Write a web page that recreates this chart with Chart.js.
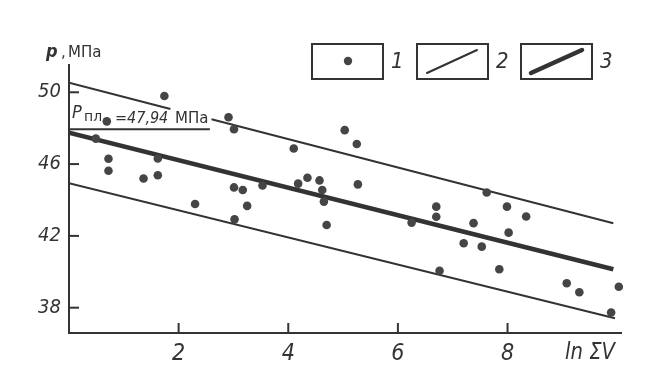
<!DOCTYPE html>
<html>
<head>
<meta charset="utf-8">
<script src="https://cdn.jsdelivr.net/npm/chart.js@4/dist/chart.umd.min.js"></script>
<style>
  html, body { margin: 0; padding: 0; background: #ffffff; }
  #wrap { width: 646px; height: 379px; position: relative; }
</style>
</head>
<body>
<div id="wrap"><canvas id="c" width="646" height="379"></canvas></div>
<script>
// ---- data ----
const pointX = [0.49, 0.69, 0.72, 0.72, 1.36, 1.62, 1.62, 1.74, 2.30, 2.91, 3.01, 3.01, 3.17, 3.25, 3.02,
                3.53, 4.10, 4.18, 4.35, 4.57, 4.62, 4.65, 4.70, 5.03, 5.25, 5.27, 6.25, 6.70, 6.70, 6.76,
                7.20, 7.38, 7.53, 7.62, 7.85, 7.99, 8.02, 8.34, 9.08, 9.31, 9.89, 10.03];
const pointY = [47.42, 48.38, 46.30, 45.63, 45.20, 46.31, 45.38, 49.79, 43.78, 48.61, 47.94, 44.70, 44.56, 43.67, 42.92,
                44.81, 46.87, 44.91, 45.24, 45.09, 44.56, 43.91, 42.61, 47.89, 47.12, 44.87, 42.74, 43.63, 43.07, 40.06,
                41.59, 42.71, 41.40, 44.42, 40.14, 43.63, 42.18, 43.08, 39.36, 38.86, 37.73, 39.17];

const upperX = [0, 1.85, 2.2, 2.60, 9.93];
const upperY = [50.53, 49.07, null, 48.50, 42.70];
const regX = [0, 9.93];
const regY = [47.75, 40.14];
const lowerX = [0, 9.96];
const lowerY = [44.93, 37.41];
const pplX = [0, 2.57];
const pplY = [47.94, 47.94];

const yTicks = [38, 42, 46, 50];
const xTicks = [2, 4, 6, 8];
const legendLabels = ['1', '2', '3'];
const yTitle = ['p', ',', 'МПа'];
const xTitle = 'ln ΣV';
const pplLabel = ['P', 'пл', '=47,94', 'МПа'];

const INK = '#333333';
const DOT = '#454545';
const NARROW = "'Liberation Sans Narrow', 'DejaVu Sans Condensed', 'Liberation Sans', sans-serif";
const SANS = "'DejaVu Sans', 'Liberation Sans', sans-serif";

const zip = (xs, ys) => xs.map((x, i) => ({ x: x, y: ys[i] }));

function text(ctx, str, x, y, font, sx) {
  ctx.save();
  ctx.font = font;
  ctx.translate(x, y);
  ctx.scale(sx || 1, 1);
  ctx.fillText(str, 0, 0);
  ctx.restore();
}

const decor = {
  id: 'decor',
  afterDraw(chart) {
    const ctx = chart.ctx;
    const xs = chart.scales.x, ys = chart.scales.y;
    const a = chart.chartArea;
    ctx.save();
    ctx.strokeStyle = INK;
    ctx.fillStyle = INK;
    // inward tick marks
    ctx.lineWidth = 2;
    ys.ticks.forEach(t => {
      const py = ys.getPixelForValue(t.value);
      ctx.beginPath(); ctx.moveTo(a.left, py); ctx.lineTo(a.left + 10, py); ctx.stroke();
    });
    xs.ticks.forEach(t => {
      const px = xs.getPixelForValue(t.value);
      ctx.beginPath(); ctx.moveTo(px, a.bottom); ctx.lineTo(px, a.bottom - 10); ctx.stroke();
    });
    ctx.textBaseline = 'alphabetic';
    ctx.textAlign = 'left';
    // y axis title
    text(ctx, yTitle[0], a.left - 23, 56.5, "italic bold 18px " + NARROW, 1);
    text(ctx, yTitle[1], a.left - 8, 56.5, "15px " + SANS, 1);
    text(ctx, yTitle[2], a.left - 1, 56.5, "15px " + SANS, 1.0);
    // x axis title
    ctx.textBaseline = 'middle';
    text(ctx, xTitle, a.right - 56, 353, "italic 23px " + NARROW, 0.95);
    // P_pl label
    ctx.textBaseline = 'alphabetic';
    const by = ys.getPixelForValue(pplY[0]);
    const lx = a.left + 3;
    text(ctx, pplLabel[0], lx, by - 11, "italic 18px " + NARROW, 1);
    text(ctx, pplLabel[1], lx + 12, by - 8, "14px " + SANS, 1);
    text(ctx, pplLabel[2], lx + 43, by - 6, "italic 16px " + NARROW, 1);
    text(ctx, pplLabel[3], lx + 103, by - 6, "15px " + SANS, 1);
    // legend
    const boxes = [312, 417, 521];
    const top = 44, bw = 71, bh = 35;
    ctx.lineWidth = 2;
    boxes.forEach((bx, i) => {
      ctx.strokeRect(bx, top, bw, bh);
      ctx.textBaseline = 'middle';
      text(ctx, legendLabels[i], bx + bw + 8, top + bh / 2 + 1, "italic 22px " + NARROW, 1);
    });
    ctx.fillStyle = DOT;
    ctx.beginPath(); ctx.arc(boxes[0] + 36, top + 17, 4.2, 0, Math.PI * 2); ctx.fill();
    ctx.lineCap = 'round';
    ctx.lineWidth = 2;
    ctx.beginPath(); ctx.moveTo(boxes[1] + 10, top + 29); ctx.lineTo(boxes[1] + 60, top + 6); ctx.stroke();
    ctx.lineWidth = 4.5;
    ctx.beginPath(); ctx.moveTo(boxes[2] + 10, top + 29); ctx.lineTo(boxes[2] + 61, top + 6); ctx.stroke();
    ctx.restore();
  }
};

new Chart(document.getElementById('c'), {
  type: 'scatter',
  data: {
    datasets: [
      { data: zip(pointX, pointY), backgroundColor: DOT, borderColor: DOT, pointRadius: 4.3, pointBorderWidth: 0, clip: false },
      { data: zip(upperX, upperY), showLine: true, spanGaps: false, borderColor: INK, borderWidth: 2, pointRadius: 0 },
      { data: zip(regX, regY), showLine: true, borderColor: INK, borderWidth: 4.5, pointRadius: 0 },
      { data: zip(lowerX, lowerY), showLine: true, borderColor: INK, borderWidth: 2, pointRadius: 0 },
      { data: zip(pplX, pplY), showLine: true, borderColor: INK, borderWidth: 2, pointRadius: 0 }
    ]
  },
  options: {
    responsive: false,
    animation: false,
    events: [],
    layout: { padding: { top: 65, right: 25, left: 0, bottom: 0 } },
    plugins: { legend: { display: false }, tooltip: { enabled: false } },
    scales: {
      x: {
        type: 'linear', min: 0, max: 10.07,
        afterBuildTicks: s => { s.ticks = xTicks.map(v => ({ value: v })); },
        afterFit: s => { s.height = 46; },
        grid: { display: false, drawTicks: false },
        border: { display: true, color: INK, width: 2 },
        ticks: { color: INK, padding: 7, font: { family: NARROW, size: 23, style: 'italic' } }
      },
      y: {
        type: 'linear', min: 36.59, max: 51.52,
        afterBuildTicks: s => { s.ticks = yTicks.map(v => ({ value: v })); },
        afterFit: s => { s.width = 69; },
        grid: { display: false, drawTicks: false },
        border: { display: true, color: INK, width: 2 },
        ticks: { color: INK, padding: 8, font: { family: NARROW, size: 20, style: 'italic' } }
      }
    }
  },
  plugins: [decor]
});
</script>
</body>
</html>
